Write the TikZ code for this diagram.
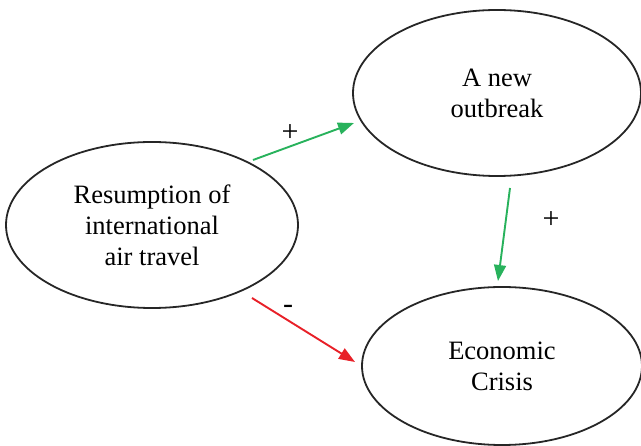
\documentclass[tikz,border=0pt]{standalone}
\usepackage{fontspec}
\setmainfont{Liberation Serif}
\usetikzlibrary{shapes.geometric,arrows.meta}
\definecolor{arrgreen}{RGB}{40,178,92}
\definecolor{arrred}{RGB}{232,32,40}
\tikzset{
  bubble/.style={ellipse, draw=black!85, line width=1.8pt, inner sep=0pt, align=center,
    font=\fontsize{26.5}{31}\selectfont},
  link/.style={line width=1.9pt, -{Triangle[length=16pt,width=12pt]}},
  sign/.style={font=\fontsize{30}{34}\selectfont, inner sep=0pt}
}
\begin{document}
\begin{tikzpicture}[x=1pt,y=-1pt]
\useasboundingbox (0,0) rectangle (641,446);
\node[bubble, minimum width=292pt, minimum height=166pt] (L) at (152,225) {Resumption of\\international\\air travel};
\node[bubble, minimum width=288pt, minimum height=166pt] (T) at (497,93) {A new\\outbreak};
\node[bubble, minimum width=280pt, minimum height=158pt] (B) at (502,366) {Economic\\Crisis};
\coordinate (g1s) at (253,160);
\coordinate (g1e) at (354,123);
\coordinate (g2s) at (510,188);
\coordinate (g2e) at (498,281);
\coordinate (r1s) at (252,298);
\coordinate (r1e) at (355,362);
\draw[link, arrgreen] (g1s) -- (g1e);
\draw[link, arrgreen] (g2s) -- (g2e);
\draw[link, arrred] (r1s) -- (r1e);
\node[sign] (p1) at (290,133) {+};
\node[sign] (p2) at (551,220) {+};
\node[sign] (m1) at (288,309) {-};
\end{tikzpicture}
\end{document}
